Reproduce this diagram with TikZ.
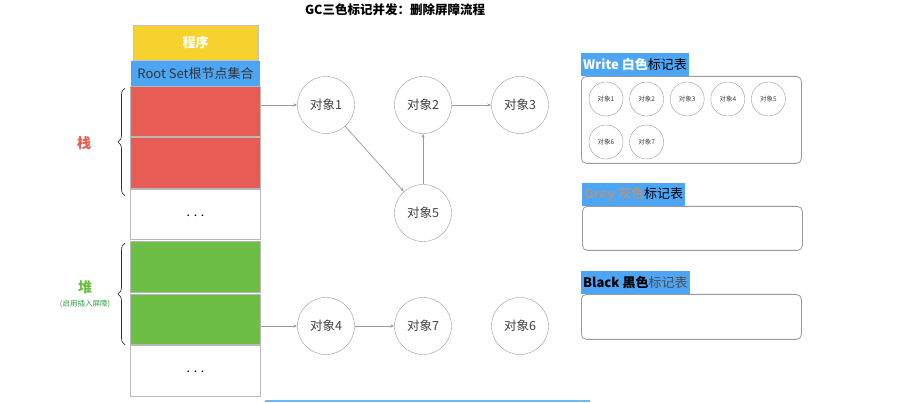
\documentclass[tikz,border=0pt]{standalone}
\usepackage{fontspec}
\setmainfont{Noto Sans CJK SC}
\usepackage{tikz}
\usetikzlibrary{arrows.meta,positioning,decorations.pathreplacing}
\definecolor{progyellow}{HTML}{F5D22E}
\definecolor{rootblue}{HTML}{4DA6F5}
\definecolor{stackred}{HTML}{E85C56}
\definecolor{heapgreen}{HTML}{6DBE45}
\definecolor{heaplab}{HTML}{2E9E3E}
\definecolor{edgegray}{HTML}{9A9A9A}

\begin{document}
\begin{tikzpicture}[x=1pt, y=-1pt,
  font=\fontsize{12.5}{14}\selectfont, >={Stealth[length=4pt,width=3pt]},
  cell/.style={draw=edgegray!70, line width=1pt, minimum width=130pt, minimum height=50.5pt, anchor=north west, inner sep=0pt},
  obj/.style={circle, draw=edgegray, minimum size=57pt, inner sep=0pt, text=black!75},
  mini/.style={circle, draw=edgegray, minimum size=34pt, inner sep=0pt, font=\fontsize{6.5}{8}\selectfont, text=black!75},
  tab/.style={draw=edgegray, rounded corners=5pt, line width=0.8pt, minimum width=220pt, anchor=north west, inner sep=0pt},
  tablab/.style={fill=rootblue, anchor=south west, minimum height=23pt, inner xsep=2pt, inner ysep=0pt, font=\fontsize{13}{15}\selectfont},
  link/.style={->, draw=edgegray, line width=0.7pt},
  curly/.style={decorate, decoration={brace, amplitude=7pt}, draw=black!80, line width=0.7pt}]
\useasboundingbox (0,0) rectangle (911,403);
% title
\node[font=\bfseries\fontsize{12.5}{14}\selectfont] (title) at (395,10) {GC三色标记并发：删除屏障流程};
% program column
\node[fill=progyellow, draw=edgegray!60, minimum width=125pt, minimum height=35pt, text=white, font=\bfseries\fontsize{13}{15}\selectfont] (prog) at (195.5,42.5) {程序};
\node[fill=rootblue, minimum width=129pt, minimum height=25pt, inner sep=0pt, text=black!80, font=\fontsize{13}{15}\selectfont] (root) at (195.5,73.5) {Root Set根节点集合};
\node[cell, fill=stackred] (s1) at (130,86) {};
\node[cell, fill=stackred, below=0pt of s1] (s2) {};
\node[cell, fill=white, below=0pt of s2] (s3) {\raisebox{-3pt}{. . .}};
\node[cell, fill=heapgreen, below=1pt of s3] (h1) {};
\node[cell, fill=heapgreen, below=1pt of h1] (h2) {};
\node[cell, fill=white, below=0pt of h2] (h3) {\raisebox{-3pt}{. . .}};
% braces
\draw[curly] (125,196) -- (125,88);
\draw[curly] (125,345) -- (125,243);
\node[text=stackred, font=\bfseries\fontsize{14}{16}\selectfont] (stack) at (84,143) {栈};
\node[text=heapgreen, font=\bfseries\fontsize{14}{16}\selectfont] (heap) at (85,287) {堆};
\node[text=heaplab, font=\fontsize{7.5}{9}\selectfont] (heapnote) at (85,304) {(启用插入屏障)};
% objects
\node[obj] (o1) at (326,105) {对象1};
\node[obj] (o2) at (423,105) {对象2};
\node[obj] (o3) at (520,105) {对象3};
\node[obj] (o5) at (423,213) {对象5};
\node[obj] (o4) at (326,326) {对象4};
\node[obj] (o7) at (423,326) {对象7};
\node[obj] (o6) at (520,326) {对象6};
\draw[link] (s1.east |- o1) -- (o1);
\draw[link] (o1) -- (o5);
\draw[link] (o5) -- (o2);
\draw[link] (o2) -- (o3);
\draw[link] (h2.east |- o4) -- (o4);
\draw[link] (o4) -- (o7);
% colour tables
\node[tab, minimum height=87pt] (white) at (581,76) {};
\node[tablab] (whitelab) at (white.north west) {\textcolor{white}{\bfseries Write 白色}标记表};
\foreach \n [count=\i] in {1,...,5}
  \node[mini] (w\n) at ({606+40.6*(\i-1)},99) {对象\n};
\foreach \n [count=\i] in {6,7}
  \node[mini] (w\n) at ({606+40.6*(\i-1)},142) {对象\n};
\node[tab, minimum height=44pt] (grey) at (582,206) {};
\node[tablab] (greylab) at (grey.north west) {\textcolor{edgegray}{\bfseries Grey 灰色}标记表};
\node[tab, minimum height=45pt] (black) at (581,294) {};
\node[tablab] (blacklab) at (black.north west) {\textcolor{black}{\bfseries Black 黑色}\textcolor{black!70}{标记表}};
% bottom edge
\coordinate (edgeL) at (265,401);
\coordinate (edgeR) at (590,401);
\draw[rootblue!80, line width=1.2pt] (edgeL) -- (edgeR);
\end{tikzpicture}
\end{document}
